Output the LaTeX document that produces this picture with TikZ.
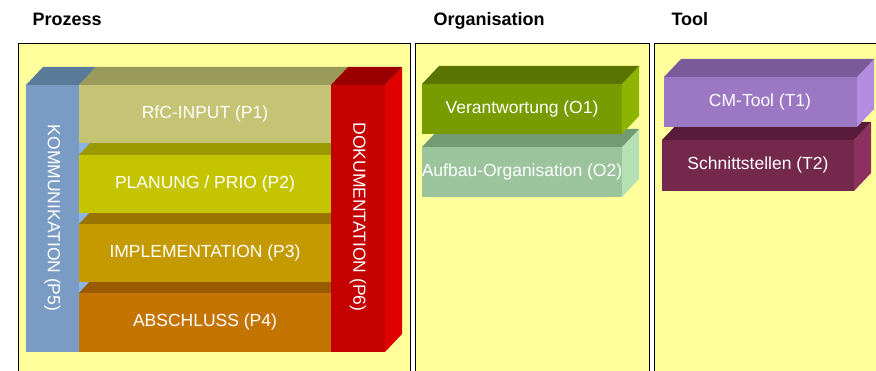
\documentclass[tikz,border=0pt]{standalone}
\usepackage{fontspec}
\setmainfont{Liberation Sans}
\usetikzlibrary{positioning}

\definecolor{panelgelb}{HTML}{FFFF9C}
\definecolor{kommfront}{HTML}{7A9CC4}
\definecolor{kommtop}{HTML}{5A7A9A}
\definecolor{kommside}{HTML}{8CB4E0}
\definecolor{rfcfront}{HTML}{C4C474}
\definecolor{rfctop}{HTML}{9A9A5A}
\definecolor{planfront}{HTML}{C4C400}
\definecolor{plantop}{HTML}{9A9A00}
\definecolor{implfront}{HTML}{C49A00}
\definecolor{impltop}{HTML}{9A7400}
\definecolor{abschfront}{HTML}{C47400}
\definecolor{abschtop}{HTML}{9A5A00}
\definecolor{dokufront}{HTML}{C40000}
\definecolor{dokutop}{HTML}{9A0000}
\definecolor{dokuside}{HTML}{E00000}
\definecolor{verfront}{HTML}{789C00}
\definecolor{vertop}{HTML}{5A7400}
\definecolor{verside}{HTML}{8CB400}
\definecolor{aufbfront}{HTML}{9CC49C}
\definecolor{aufbtop}{HTML}{749A74}
\definecolor{aufbside}{HTML}{B4E0B4}
\definecolor{cmfront}{HTML}{9C78C4}
\definecolor{cmtop}{HTML}{7A5A9A}
\definecolor{cmside}{HTML}{B48CE0}
\definecolor{schnfront}{HTML}{74284C}
\definecolor{schntop}{HTML}{5A1A3A}
\definecolor{schnside}{HTML}{8C3060}

% box with front, top and right face: x1, y1, x2, y2, front, top, side
\newcommand{\quader}[7]{%
  \fill[#7] (#3,#2) -- (#3+17,#2-18) -- (#3+17,#4-18) -- (#3,#4) -- cycle;
  \fill[#6] (#1,#2) -- (#3,#2) -- (#3+17,#2-18) -- (#1+17,#2-18) -- cycle;
  \fill[#5] (#1,#2) rectangle (#3,#4);
}

\tikzset{
  titel/.style={anchor=base west, font=\fontsize{18}{20}\selectfont\bfseries},
  beschr/.style={text=white, font=\fontsize{17.5}{19}\selectfont, inner sep=0pt},
  panel/.style={draw=black, line width=1pt, fill=panelgelb}
}

\begin{document}
\begin{tikzpicture}[x=1pt, y=-1pt]
\useasboundingbox (0,0) rectangle (876,371);
\fill[white] (0,0) rectangle (876,371);
\clip (0,0) rectangle (876,371);

% titles
\node[titel] (prozess) at (29,26) {Prozess};
\node[titel] (orga) at (430,26) {Organisation};
\node[titel] (tool) at (668,26) {Tool};

% panels
\draw[panel] (18,44) rectangle (410,390);
\draw[panel] (415,44) rectangle (649,390);
\draw[panel] (654,44) rectangle (890,390);

% Prozess
\quader{26}{85}{79}{352}{kommfront}{kommtop}{kommside}
\quader{79}{293}{331}{352}{abschfront}{abschtop}{abschfront}
\quader{79}{224}{331}{282}{implfront}{impltop}{implfront}
\quader{79}{155}{331}{213}{planfront}{plantop}{planfront}
\quader{79}{85}{331}{143}{rfcfront}{rfctop}{rfcfront}
\quader{331}{85}{385}{352}{dokufront}{dokutop}{dokuside}

\node[beschr] (p1) at (205,114) {RfC-INPUT (P1)};
\node[beschr] (p2) at (205,184) {PLANUNG / PRIO (P2)};
\node[beschr] (p3) at (205,253) {IMPLEMENTATION (P3)};
\node[beschr] (p4) at (205,322) {ABSCHLUSS (P4)};
\node[beschr, rotate=-90] (p5) at (52.5,218) {KOMMUNIKATION (P5)};
\node[beschr, rotate=-90] (p6) at (358,217) {DOKUMENTATION (P6)};

% Organisation
\quader{422}{147}{622}{197}{aufbfront}{aufbtop}{aufbside}
\quader{422}{84}{622}{134}{verfront}{vertop}{verside}
\node[beschr] (o1) at (522,109) {Verantwortung (O1)};
\node[beschr] (o2) at (522,172) {Aufbau-Organisation (O2)};

% Tool
\quader{662}{140}{854}{191}{schnfront}{schntop}{schnside}
\quader{664}{77}{857}{127}{cmfront}{cmtop}{cmside}
\node[beschr] (t1) at (760,102) {CM-Tool (T1)};
\node[beschr] (t2) at (758,165) {Schnittstellen (T2)};
\end{tikzpicture}
\end{document}
